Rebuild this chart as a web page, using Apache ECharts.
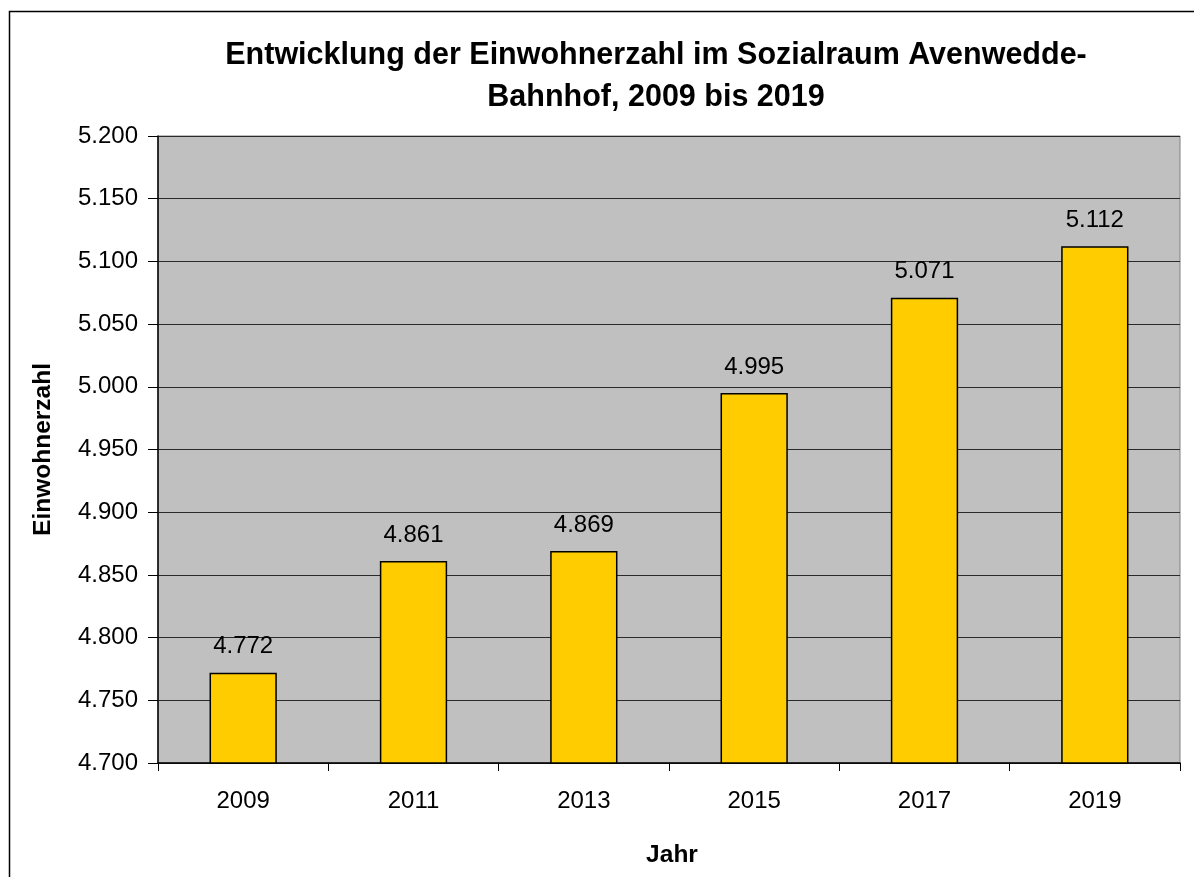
<!DOCTYPE html>
<html>
<head>
<meta charset="utf-8">
<script src="https://cdn.jsdelivr.net/npm/echarts@6/dist/echarts.min.js"></script>
<style>
html,body{margin:0;padding:0;background:#fff;}
#chart{width:1194px;height:877px;}
</style>
</head>
<body>
<div id="chart"></div>
<script>
const titleText = 'Entwicklung der Einwohnerzahl im Sozialraum Avenwedde-\nBahnhof, 2009 bis 2019';
const categories = ['2009', '2011', '2013', '2015', '2017', '2019'];
const values = [4772, 4861, 4869, 4995, 5071, 5112];
const yMin = 4700, yMax = 5200, yStep = 50;
const xName = 'Jahr';
const yName = 'Einwohnerzahl';

const fmt = v => (v / 1000).toFixed(3);
const FONT = '"Liberation Sans", Arial, sans-serif';

const chart = echarts.init(document.getElementById('chart'), null, {renderer: 'canvas'});
chart.setOption({
  animation: false,
  backgroundColor: '#ffffff',
  textStyle: {fontFamily: FONT},
  graphic: [{
    type: 'rect', silent: true, z: -10,
    shape: {x: 9.5, y: 11.5, width: 1400, height: 1000},
    style: {fill: 'none', stroke: '#000', lineWidth: 1.5}
  }],
  title: {
    text: titleText,
    left: 651, top: 30, textAlign: 'center',
    textStyle: {fontFamily: FONT, fontSize: 30.5, fontWeight: 'bold', color: '#000', lineHeight: 42}
  },
  grid: {
    left: 158, top: 136, right: 14, bottom: 114,
    show: true, backgroundColor: '#C0C0C0', borderColor: '#808080', borderWidth: 1
  },
  xAxis: {
    type: 'category',
    data: categories,
    name: xName,
    nameLocation: 'middle',
    nameGap: 80,
    nameTextStyle: {fontFamily: FONT, fontSize: 24.5, fontWeight: 'bold', color: '#000', padding: [0, 0, 0, 6]},
    axisLine: {show: true, lineStyle: {color: '#000', width: 1.5}},
    axisTick: {show: true, length: 8, lineStyle: {color: '#000'}},
    axisLabel: {fontFamily: FONT, fontSize: 24, color: '#000', margin: 26},
    splitLine: {show: false}
  },
  yAxis: {
    type: 'value',
    min: yMin, max: yMax, interval: yStep,
    name: yName,
    nameLocation: 'middle',
    nameGap: 102,
    nameTextStyle: {fontFamily: FONT, fontSize: 24.5, fontWeight: 'bold', color: '#000'},
    axisLine: {show: true, lineStyle: {color: '#000', width: 1.5}},
    axisTick: {show: true, length: 10, lineStyle: {color: '#000'}},
    axisLabel: {fontFamily: FONT, fontSize: 24, color: '#000', margin: 20, formatter: fmt},
    splitLine: {show: true, lineStyle: {color: '#2a2a2a', width: 1}}
  },
  series: [{
    type: 'bar',
    data: values,
    barWidth: '39.5%',
    itemStyle: {color: '#FFCC00', borderColor: '#000', borderWidth: 1.5},
    label: {
      show: true, position: 'top', distance: 14,
      fontFamily: FONT, fontSize: 24, color: '#000',
      formatter: p => fmt(p.value)
    }
  }]
});
</script>
</body>
</html>
